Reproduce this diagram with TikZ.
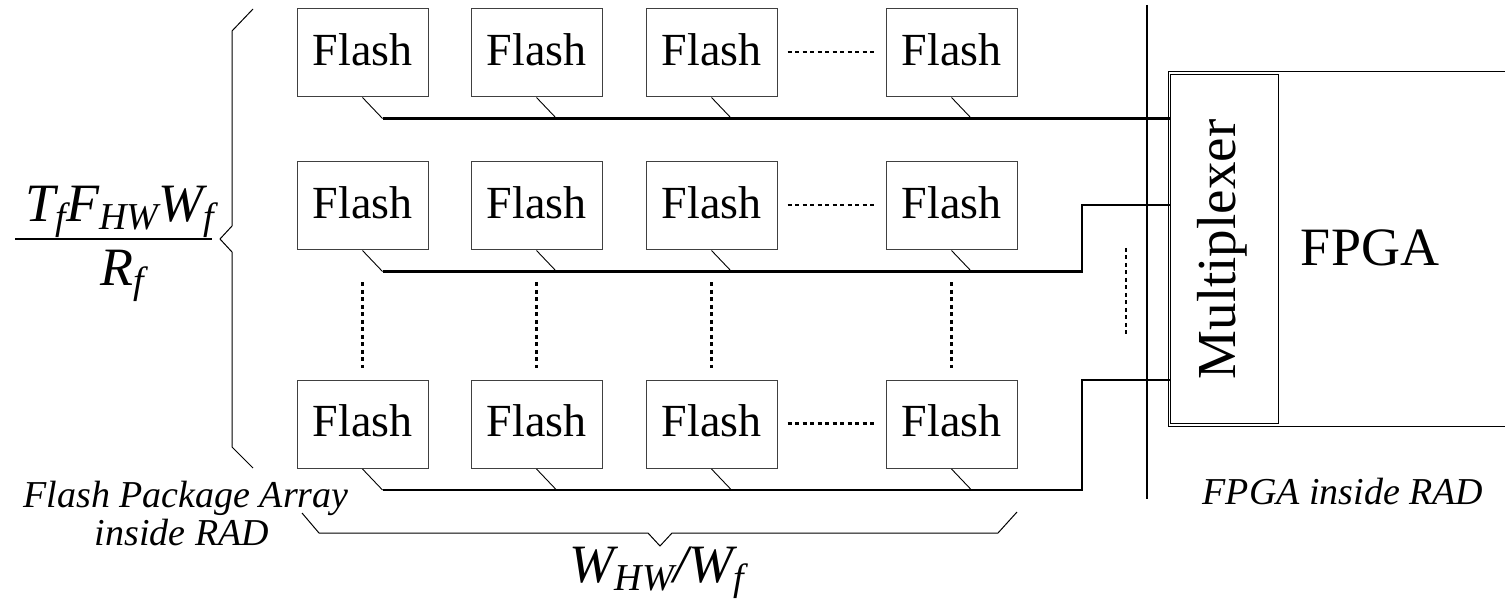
\documentclass[tikz,border=0pt]{standalone}
\usepackage{fontspec}
\setmainfont{Liberation Serif}
\usetikzlibrary{calc}
\newcommand\lowsub[1]{\raisebox{-8pt}{\fontsize{38}{38}\selectfont #1}}
\begin{document}
\begin{tikzpicture}[x=1pt,y=-1pt,
  flashbox/.style={draw=black!75, line width=1pt, minimum width=131pt, minimum height=88pt,
    inner sep=0pt, text depth=7pt, font=\fontsize{46}{46}\selectfont},
  bus/.style={line width=2.6pt},
  tap/.style={line width=0.9pt},
  thinline/.style={line width=1pt},
  dotv/.style={line width=2.2pt, dash pattern=on 4pt off 3.5pt},
  mathlbl/.style={anchor=base, inner sep=0pt, font=\itshape\fontsize{54}{54}\selectfont},
  italbl/.style={anchor=base, inner sep=0pt, font=\itshape\fontsize{38}{38}\selectfont}]
\useasboundingbox (0,0) rectangle (1505,601);

% flash packages
\foreach \c/\x in {1/362.5,2/536.5,3/711.5,4/951.5}
  \foreach \r/\y in {1/53,2/206,3/424.5}
    \node[flashbox] (f\r\c) at (\x,\y) {Flash};

% multiplexer and FPGA
\node[draw, thinline, minimum width=108pt, minimum height=349pt, inner sep=0pt] (mux) at (1224,249.5) {};
\node[rotate=90, inner sep=0pt, font=\fontsize{55}{55}\selectfont] (muxtext) at (1222,249.5) {Multiplexer};
\coordinate (fpgatr) at (1505,72);
\coordinate (fpgatl) at (1168,72);
\coordinate (fpgabl) at (1168,427);
\coordinate (fpgabr) at (1505,427);
\draw[thinline] (fpgatr) -- (fpgatl) -- (fpgabl) -- (fpgabr);
\node[anchor=base, inner sep=0pt, font=\fontsize{54}{54}\selectfont] (fpga) at (1370,266) {FPGA};

% taps
\foreach \r in {1,2,3}
  \foreach \c in {1,2,3,4}
    \draw[tap] ($(f\r\c.south west)+(66,0)$) -- ++(20,21);

% buses
\coordinate (b1) at ($(f11.south west)+(86,21)$);
\coordinate (b2) at ($(f21.south west)+(86,21)$);
\coordinate (b3) at ($(f31.south west)+(86,21)$);
\coordinate (s2) at (1082,205);
\coordinate (s3) at (1082,380);
\draw[bus] (b1) -- (b1 -| mux.west);
\draw[bus] (b2) -| (s2) -- (s2 -| mux.west);
\draw[bus] (b3) -| (s3) -- (s3 -| mux.west);
\coordinate (vt) at (1147,5);
\coordinate (vb) at (1147,499);
\draw[bus] (vt) -- (vb);

% dotted lines
\foreach \r in {1,2,3}
  \draw[dotv] ($(f\r3.east)+(10,-1)$) -- ($(f\r4.west)+(-10,-1)$);
\foreach \c in {1,2,3,4}
  \draw[dotv] ($(f2\c.south)+(0,32)$) -- ($(f3\c.north)+(0,-12)$);
\coordinate (dt) at (1126,248);
\coordinate (db) at (1126,335);
\draw[dotv] (dt) -- (db);

% braces
\draw[thinline] (253,9) -- (232,31) -- (232,226) -- (220,239) -- (232,252) -- (232,447) -- (253,468);
\draw[thinline] (302,513) -- (319,533) -- (648,533) -- (660,546) -- (672,533) -- (998,533) -- (1017,512);

% fraction
\node[mathlbl] (num) at (120,222) {T\lowsub{f}F\lowsub{HW}W\lowsub{f}};
\coordinate (barl) at (15,239);
\coordinate (barr) at (212,239);
\draw[line width=1.5pt] (barl) -- (barr);
\node[mathlbl] (den) at (122,286) {R\lowsub{f}};

% bottom label
\node[mathlbl] (whw) at (657,582) {W\lowsub{HW}/W\lowsub{f}};

% italic labels
\node[italbl] (fpa1) at (186,507) {Flash Package Array};
\node[italbl] (fpa2) at (182,545) {inside RAD};
\node[italbl] (fir) at (1343,504) {FPGA inside RAD};
\end{tikzpicture}
\end{document}
